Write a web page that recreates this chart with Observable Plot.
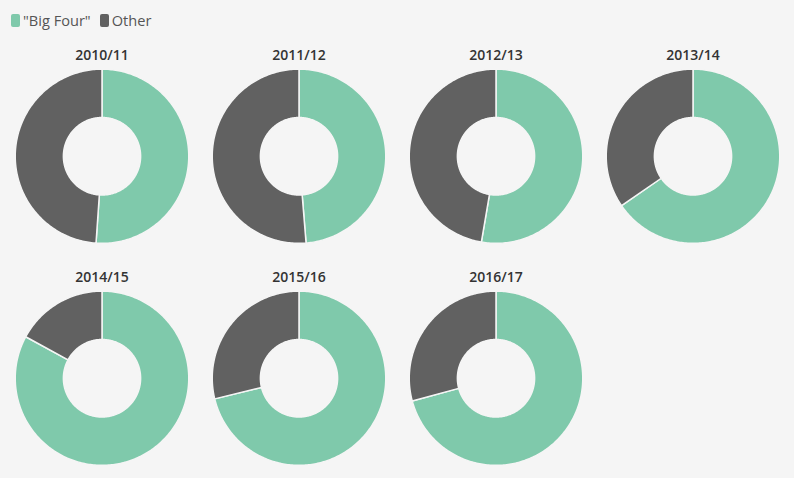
<!DOCTYPE html>
<html><head><meta charset="utf-8">
<script src="https://cdn.jsdelivr.net/npm/d3@7"></script>
<script src="https://cdn.jsdelivr.net/npm/@observablehq/plot@0.6"></script>
<style>
html,body{margin:0;padding:0;background:#f5f5f5;}
#wrap{position:relative;width:794px;height:478px;overflow:hidden;}
#legend{position:absolute;left:11px;top:12px;font:14.6px "Open Sans", sans-serif;color:#555;display:flex;align-items:center;line-height:16px;}
.item{display:flex;align-items:center;margin-right:9px;}
.sw{display:inline-block;width:9px;height:13px;border-radius:2px;margin-right:3px;}
#chart{position:absolute;left:0;top:0;}
</style></head><body>
<div id="wrap"><div id="chart"></div><div id="legend"></div></div>
<script>
const years = ["2010/11", "2011/12", "2012/13", "2013/14", "2014/15", "2015/16", "2016/17"];
const bigFour = [51.1, 48.7, 52.7, 65.4, 82.9, 71.2, 70.8];
const other = [48.9, 51.3, 47.3, 34.6, 17.1, 28.8, 29.2];
const categories = ['"Big Four"', "Other"];
const colors = ["#7fc9ab", "#616161"];
const columns = 4;
const innerRatio = 0.445;

// legend
const legend = document.getElementById("legend");
categories.forEach((c, i) => {
  const it = document.createElement("div");
  it.className = "item";
  const sw = document.createElement("span");
  sw.className = "sw";
  sw.style.background = colors[i];
  const tx = document.createElement("span");
  tx.textContent = c;
  it.append(sw, tx);
  legend.append(it);
});

// build arc polygons from values
const pts = [];
const titles = [];
years.forEach((yr, i) => {
  const col = i % columns, row = Math.floor(i / columns);
  titles.push({year: yr, col, row});
  const vals = [bigFour[i], other[i]];
  const total = d3.sum(vals);
  let start = 0;
  vals.forEach((v, j) => {
    const a0 = start / total * 2 * Math.PI;
    const a1 = (start + v) / total * 2 * Math.PI;
    start += v;
    const n = Math.max(2, Math.ceil((a1 - a0) / (Math.PI / 180)));
    const key = yr + "|" + categories[j];
    const ring = [];
    for (let k = 0; k <= n; k++) {
      const a = a0 + (a1 - a0) * k / n;
      ring.push({x: Math.sin(a), y: Math.cos(a)});
    }
    for (let k = n; k >= 0; k--) {
      const a = a0 + (a1 - a0) * k / n;
      ring.push({x: innerRatio * Math.sin(a), y: innerRatio * Math.cos(a)});
    }
    ring.push(ring[0]);
    ring.forEach(p => pts.push({...p, key, cat: categories[j], col, row}));
  });
});

const chart = Plot.plot({
  width: 794,
  height: 478,
  marginLeft: 11.8,
  marginRight: 10.8,
  marginTop: 43,
  marginBottom: 11.9,
  style: {background: "transparent", fontFamily: "'Open Sans', sans-serif", overflow: "visible"},
  x: {domain: [-1.02, 1.02], axis: null},
  y: {domain: [-1.013, 1.283], axis: null},
  fx: {axis: null, domain: [0, 1, 2, 3], paddingInner: 0.1, paddingOuter: 0},
  fy: {axis: null, domain: [0, 1], paddingInner: 0.1, paddingOuter: 0},
  color: {domain: categories, range: colors},
  marks: [
    Plot.line(pts, {x: "x", y: "y", z: "key", fill: "cat", stroke: "#f5f5f5", strokeWidth: 1.5, fx: "col", fy: "row"}),
    Plot.text(titles, {text: "year", fx: "col", fy: "row", frameAnchor: "top", lineAnchor: "middle", dy: 11, fontSize: 14, fontWeight: 600, fill: "#333"})
  ]
});
document.getElementById("chart").append(chart);
</script>
</body></html>
